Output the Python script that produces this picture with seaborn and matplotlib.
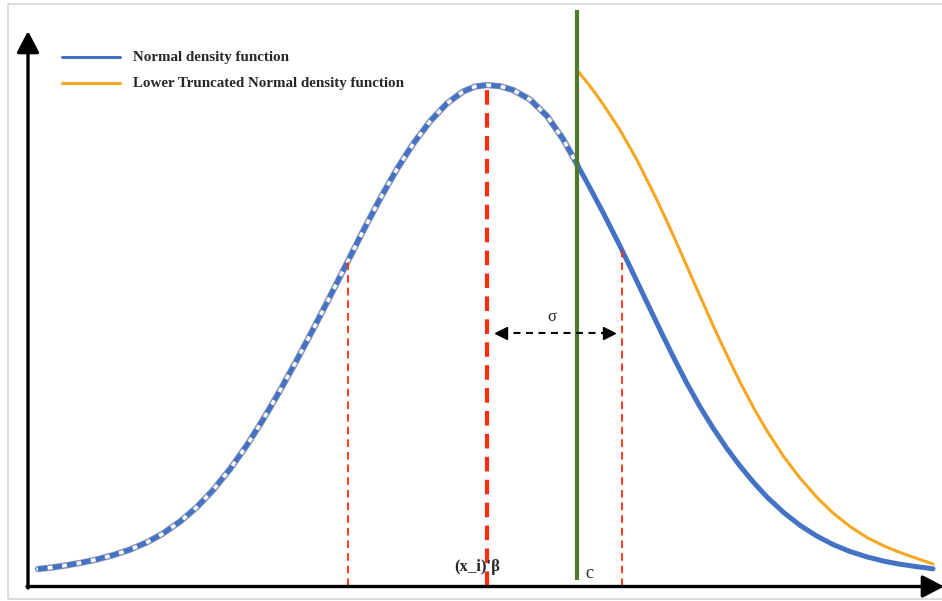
import numpy as np
import pandas as pd
import matplotlib
matplotlib.use("Agg")
import matplotlib.pyplot as plt
import matplotlib.patches as mpatches
import seaborn as sns

# ---- data (arbitrary chart units: x relative to the mean, y = density height) ----
x_normal = [-449, -437, -424, -407, -390, -374, -357, -340, -324, -307, -290, -274, -257,
            -240, -224, -207, -190, -174, -157, -139, -124, -107, -90, -74, -57, -40, -24,
            -12, 0, 13, 26, 43, 60, 76, 90, 103, 116, 133, 145, 156, 166, 176, 188, 200,
            213, 226, 240, 253, 267, 280, 297, 313, 330, 346, 363, 380, 397, 413, 430, 446]
y_normal = [3, 4.3, 6.1, 9.0, 12.6, 16.8, 22.4, 29.7, 38.5, 50.4, 65.0, 81.8, 102.9,
            127.0, 152.3, 181.4, 212.3, 242.5, 275.5, 311.1, 340.8, 373.1, 403.0, 428.0, 450.6,
            468.6, 480.4, 485.4, 487.0, 485.8, 482, 472.5, 456, 433, 408, 384, 359.5, 326,
            301, 277.9, 256.9, 236.1, 211.7, 188.5, 165.2, 144.1, 123.4, 106.0, 89.1, 75.0,
            59.2, 46.7, 35.8, 27.5, 20.5, 15.1, 10.8, 7.8, 5.3, 3.2]
x_trunc = [90, 103, 116, 133, 150, 168, 180, 191, 202, 213, 223, 233, 243, 253, 267,
           280, 297, 313, 330, 346, 363, 380, 397, 413, 430, 446]
y_trunc = [502, 486, 468, 442, 412, 376, 350.5, 326, 301, 276, 253.5, 231.5, 210.5, 190, 163.5,
           141, 115, 94, 74.5, 59, 45.5, 34.5, 26, 19.5, 13.5, 8]
mu = 0
sigma_marks = [-139, 135]
sigma_tops = [313, 322]
c_cut = 90
labels = ["Normal density function", "Lower Truncated Normal density function"]

BLUE = "#4472C4"
ORANGE = "#F5A623"
GREEN = "#4F7A2C"
RED = "#FF2B0F"

sns.set_style("white")
plt.rcParams["font.family"] = ["Liberation Serif", "DejaVu Serif"]
plt.rcParams["lines.scale_dashes"] = False

fig = plt.figure(figsize=(9.42, 6.01), dpi=100)
ax = fig.add_axes([0, 0, 1, 1])
ax.set_xlim(-487, 455)
ax.set_ylim(-29, 572)
ax.axis("off")

df_n = pd.DataFrame({"x": x_normal, "y": y_normal})
df_t = pd.DataFrame({"x": x_trunc, "y": y_trunc})
left = df_n[df_n.x <= c_cut]
right = df_n[df_n.x >= c_cut]

# frame of the picture
ax.add_patch(mpatches.Rectangle((-479, -27), 960, 595, fill=False,
                                edgecolor="#d6d6d6", lw=1.2, zorder=0))

# normal density: dashed-looking part left of c
sns.lineplot(data=left, x="x", y="y", ax=ax, color="#8a97b8", lw=4.6,
             sort=False, estimator=None, zorder=2)
sns.lineplot(data=left, x="x", y="y", ax=ax, color="white", lw=2.4,
             sort=False, estimator=None, zorder=2.1)
sns.lineplot(data=left, x="x", y="y", ax=ax, color=BLUE, lw=3.4,
             sort=False, estimator=None, zorder=2.2, linestyle=(0, (7, 3.5)))
# solid part right of c
sns.lineplot(data=right, x="x", y="y", ax=ax, color=BLUE, lw=3.6,
             sort=False, estimator=None, zorder=2.2, solid_capstyle="round",
             solid_joinstyle="round")
# truncated density
sns.lineplot(data=df_t, x="x", y="y", ax=ax, color=ORANGE, lw=2.2,
             sort=False, estimator=None, zorder=2.3, solid_joinstyle="round")

# mean line and sigma lines
ax.vlines(mu, -14, max(y_normal), colors=RED, lw=3.0,
          linestyles=[(0, (10.5, 6))], zorder=3)
ax.vlines(sigma_marks, -14, sigma_tops, colors=RED, lw=1.3,
          linestyles=[(0, (5.5, 3.6))], zorder=3)

# cut-off c
ax.vlines(c_cut, -8, 562, colors=GREEN, lw=3.0, zorder=4)

# sigma arrow
ax.plot([14, 122], [239, 239], color="black", lw=1.5, linestyle=(0, (5, 4)), zorder=5)
ax.plot([14], [239], marker="<", ms=8, color="black", zorder=5)
ax.plot([122], [239], marker=">", ms=8, color="black", zorder=5)
ax.text(65, 255, "σ", ha="center", va="center", fontsize=12, zorder=6)

# axes arrows
arrow_style = dict(arrowstyle="-|>,head_length=0.65,head_width=0.34",
                   lw=2.4, color="black", mutation_scale=20, shrinkA=0, shrinkB=0)
ax.annotate("", xy=(-459, 541), xytext=(-459, -16), arrowprops=arrow_style,
            annotation_clip=False, zorder=6)
ax.annotate("", xy=(457, -14.5), xytext=(-460, -14.5), arrowprops=arrow_style,
            annotation_clip=False, zorder=6)

# labels
ax.text(-10, 5, "(x_i)'β", ha="center", va="center", fontsize=12,
        fontweight="bold", zorder=6)
ax.text(102, -2, "c", ha="center", va="center", fontsize=13, zorder=6)

# legend
ax.plot([-425, -367], [515, 515], color=BLUE, lw=2.2)
ax.plot([-425, -367], [489, 489], color=ORANGE, lw=2.2)
ax.text(-354, 515, labels[0], va="center", ha="left", fontsize=10.8, fontweight="bold")
ax.text(-354, 489, labels[1], va="center", ha="left", fontsize=10.8, fontweight="bold")

fig.savefig("out.png", dpi=100)
